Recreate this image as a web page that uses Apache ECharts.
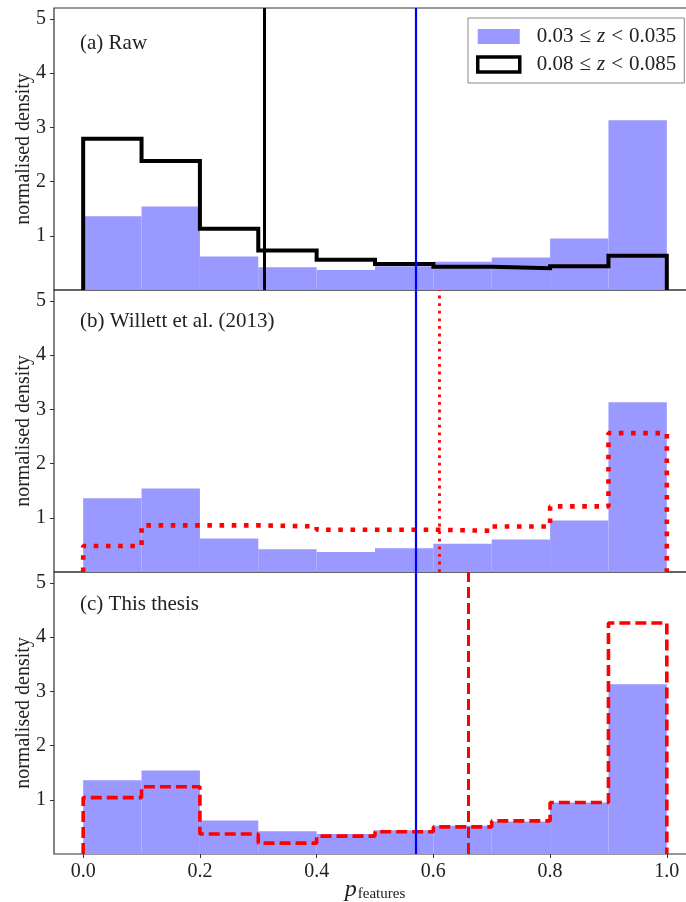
<!DOCTYPE html>
<html>
<head>
<meta charset="utf-8">
<script src="https://cdn.jsdelivr.net/npm/echarts@6/dist/echarts.min.js"></script>
<style>html,body{margin:0;padding:0;background:#fff;}#c{width:686px;height:902px;}</style>
</head>
<body>
<div id="c"></div>
<script>
// ---- data ----
const binEdges = [0, 0.1, 0.2, 0.3, 0.4, 0.5, 0.6, 0.7, 0.8, 0.9, 1.0];
const lowZ      = [1.36, 1.54, 0.62, 0.42, 0.37, 0.44, 0.52, 0.60, 0.95, 3.13];   // 0.03 <= z < 0.035
const rawHighZ  = [2.79, 2.38, 1.13, 0.73, 0.56, 0.48, 0.43, 0.40, 0.44, 0.63];   // (a) 0.08 <= z < 0.085
const willettHighZ = [0.48, 0.86, 0.86, 0.84, 0.78, 0.78, 0.76, 0.84, 1.21, 2.56];
const thesisHighZ  = [1.04, 1.24, 0.37, 0.20, 0.33, 0.41, 0.50, 0.61, 0.95, 4.26];
const thrLow = 0.567;
const thrRaw = 0.310;
const thrWillett = 0.606;
const thrThesis = 0.656;
const xTicks = [0, 0.2, 0.4, 0.6, 0.8, 1.0];
const yTicks = [1, 2, 3, 4, 5];
const panelLabels = ['(a) Raw', '(b) Willett et al. (2013)', '(c) This thesis'];

const FONT = 'Liberation Serif';
const TXT = '#222';

function barData(vals) {
  return vals.map((v, i) => [binEdges[i], binEdges[i + 1], v]);
}
function stepData(vals) {
  const pts = [[binEdges[0], 0]];
  vals.forEach((v, i) => { pts.push([binEdges[i], v]); pts.push([binEdges[i + 1], v]); });
  pts.push([binEdges[binEdges.length - 1], 0]);
  return pts;
}
function renderBar(params, api) {
  const p0 = api.coord([api.value(0), api.value(2)]);
  const p1 = api.coord([api.value(1), 0]);
  return { type: 'rect', shape: { x: p0[0], y: p0[1], width: p1[0] - p0[0], height: p1[1] - p0[1] },
           style: { fill: '#9999ff' } };
}
function vline(x, color, width, type) {
  return { silent: true, symbol: ['none', 'none'], label: { show: false },
           lineStyle: { color: color, width: width, type: type, cap: 'butt', opacity: 1 },
           emphasis: { disabled: true }, animation: false, data: [{ xAxis: x }] };
}

const tops = [8, 290, 572];
const H = 282;
const grids = tops.map(t => ({ left: 54, width: 642, top: t, height: H, show: true,
  borderColor: '#333', borderWidth: 1.2, backgroundColor: 'transparent',
  containLabel: false, outerBoundsMode: 'none' }));

const xAxes = tops.map((t, i) => ({
  type: 'value', gridIndex: i, min: -0.05, max: 1.05, position: 'bottom',
  splitLine: { show: false }, axisLine: { show: false, onZero: false },
  axisTick: { show: i === 2, length: 4, customValues: xTicks, lineStyle: { color: '#333' } },
  axisLabel: { show: i === 2, customValues: xTicks, formatter: v => v.toFixed(1), margin: 8,
               fontFamily: FONT, fontSize: 20, color: TXT },
  name: i === 2 ? '{p|p}{s|features}' : '', nameLocation: 'middle', nameGap: 24,
  nameMoveOverlap: false,
  nameTextStyle: { rich: {
      p: { fontFamily: FONT, fontStyle: 'italic', fontSize: 24, color: TXT, lineHeight: 24 },
      s: { fontFamily: FONT, fontSize: 15, color: TXT, padding: [8, 0, 0, 1], lineHeight: 24 } } }
}));
const yAxes = tops.map((t, i) => ({
  type: 'value', gridIndex: i, min: 0, max: 5.2, position: 'left',
  splitLine: { show: false }, axisLine: { show: false, onZero: false },
  axisTick: { show: true, length: 4, customValues: yTicks, lineStyle: { color: '#333' } },
  axisLabel: { customValues: yTicks, margin: 8, fontFamily: FONT, fontSize: 20, color: TXT },
  name: 'normalised density', nameLocation: 'middle', nameGap: 20, nameRotate: 90,
  nameMoveOverlap: false,
  nameTextStyle: { fontFamily: FONT, fontSize: 20, color: TXT }
}));

const seriesList = [];
[0, 1, 2].forEach(i => {
  seriesList.push({
    name: i === 0 ? 'low' : 'low' + i, type: 'custom', xAxisIndex: i, yAxisIndex: i,
    renderItem: renderBar, data: barData(lowZ), encode: { x: [0, 1], y: 2 },
    itemStyle: { color: '#9999ff' }, silent: true, z: 1,
    markLine: vline(thrLow, '#0000ff', 2.2, 'solid')
  });
});
seriesList.push({
  name: 'rawHigh', type: 'line', xAxisIndex: 0, yAxisIndex: 0, data: stepData(rawHighZ),
  symbol: 'none', silent: true, z: 3, color: '#000',
  lineStyle: { color: '#000', width: 4, join: 'miter', cap: 'butt' },
  markLine: vline(thrRaw, '#000', 3, 'solid')
});
seriesList.push({
  name: 'willett', type: 'line', xAxisIndex: 1, yAxisIndex: 1, data: stepData(willettHighZ),
  symbol: 'none', silent: true, z: 3,
  lineStyle: { color: '#ff0000', width: 4.6, type: [4.6, 7.6], cap: 'butt' },
  markLine: vline(thrWillett, '#ff0000', 2.8, [2.8, 4.8])
});
seriesList.push({
  name: 'thesis', type: 'line', xAxisIndex: 2, yAxisIndex: 2, data: stepData(thesisHighZ),
  symbol: 'none', silent: true, z: 3,
  lineStyle: { color: '#ff0000', width: 3.6, type: [11, 5], cap: 'butt' },
  markLine: vline(thrThesis, '#ff0000', 3, [11, 5])
});

const LF = 21;
const richLeg = {
  n: { fontFamily: FONT, fontSize: LF, color: TXT, lineHeight: 15 },
  f: { fontFamily: FONT, fontSize: LF, color: TXT, lineHeight: 15, padding: [0, 0, 0, 12] },
  r: { fontFamily: FONT, fontSize: LF, color: TXT, lineHeight: 15, padding: [0, 6, 0, 6] },
  z: { fontFamily: FONT, fontSize: LF, color: TXT, lineHeight: 15, fontStyle: 'italic' }
};
const legendText = {
  low: '{f|0.03}{r|≤}{z|z}{r|<}{n|0.035}',
  rawHigh: '{f|0.08}{r|≤}{z|z}{r|<}{n|0.085}'
};

const option = {
  animation: false,
  backgroundColor: '#fff',
  grid: grids,
  xAxis: xAxes,
  yAxis: yAxes,
  title: panelLabels.map((t, i) => ({
    text: t, left: 80, top: [33, 311, 594][i], padding: 0,
    textStyle: { fontFamily: FONT, fontSize: 21, fontWeight: 'normal', color: TXT }
  })),
  legend: {
    orient: 'vertical', left: 468, top: 18, padding: [8, 8, 8, 8],
    itemWidth: 42, itemHeight: 15, itemGap: 7,
    backgroundColor: '#fff', borderColor: '#888', borderWidth: 1, borderRadius: 0,
    selectedMode: false,
    formatter: name => legendText[name],
    textStyle: { rich: richLeg },
    data: [
      { name: 'low', icon: 'rect', itemStyle: { color: '#9999ff', borderWidth: 0 } },
      { name: 'rawHigh', icon: 'rect', itemStyle: { color: '#fff', borderColor: '#000', borderWidth: 3.5 },
        lineStyle: { opacity: 0 } }
    ]
  },
  series: seriesList
};

const chart = echarts.init(document.getElementById('c'), null, { renderer: 'canvas' });
chart.setOption(option);
</script>
</body>
</html>
